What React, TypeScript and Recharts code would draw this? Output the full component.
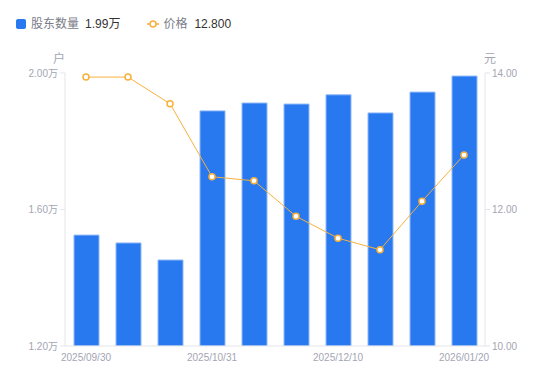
import { Bar, ComposedChart, Line, XAxis, YAxis } from "recharts"

const dates = [
  "2025/09/30",
  "2025/10/10",
  "2025/10/20",
  "2025/10/31",
  "2025/11/10",
  "2025/11/20",
  "2025/12/10",
  "2025/12/20",
  "2025/12/31",
  "2026/01/20",
]
const holders = [15250, 15020, 14520, 18890, 19120, 19090, 19360, 18830, 19440, 19910]
const prices = [13.94, 13.94, 13.55, 12.48, 12.42, 11.9, 11.58, 11.41, 12.12, 12.8]
const holderTicks = [12000, 16000, 20000]
const priceTicks = [10, 12, 14]

const BLUE = "#2878f0"
const ORANGE = "#f8b03c"
const AXIS = "#e4e5ea"
const TICK = "#a3a5b3"
const FONT = "'Liberation Sans', Arial, 'Noto Sans CJK SC', sans-serif"

const data = dates.map((date, i) => ({ date, holders: holders[i], price: prices[i] }))

export default function App() {
  const last = data.length - 1
  return (
    <div style={{ position: "fixed", left: 0, top: 0, width: 550, height: 381, background: "#fff", fontFamily: FONT }}>
      {/* legend */}
      <div style={{ position: "absolute", left: 16, top: 16, display: "flex", alignItems: "center", fontSize: 12, lineHeight: "16px" }}>
        <span style={{ width: 10, height: 10, background: BLUE, borderRadius: 2, display: "inline-block" }} />
        <span style={{ color: "#7a7c88", marginLeft: 5 }}>股东数量</span>
        <span style={{ color: "#333", marginLeft: 6 }}>{(holders[last] / 10000).toFixed(2)}万</span>
        <svg width={12} height={10} style={{ marginLeft: 27 }}>
          <line x1={0} y1={5} x2={12} y2={5} stroke={ORANGE} strokeWidth={1.5} />
          <circle cx={6} cy={5} r={3} fill="#fff" stroke={ORANGE} strokeWidth={1.5} />
        </svg>
        <span style={{ color: "#7a7c88", marginLeft: 4 }}>价格</span>
        <span style={{ color: "#333", marginLeft: 7 }}>{prices[last].toFixed(3)}</span>
      </div>
      <div style={{ position: "absolute", left: 53, top: 49, fontSize: 12, color: TICK }}>户</div>
      <div style={{ position: "absolute", left: 484, top: 49, fontSize: 12, color: TICK }}>元</div>
      <ComposedChart
        width={550}
        height={381}
        data={data}
        margin={{ top: 73, right: 0, bottom: 0, left: 0 }}
        barSize={25}
      >
        <XAxis
          dataKey="date"
          interval={2}
          tickLine={false}
          axisLine={{ stroke: AXIS }}
          tick={{ fill: TICK, fontSize: 10, fontFamily: FONT }}
          height={35}
        />
        <YAxis
          yAxisId="left"
          domain={[12000, 20000]}
          ticks={holderTicks}
          width={65}
          tickSize={5}
          tickLine={{ stroke: AXIS }}
          axisLine={{ stroke: AXIS }}
          tick={{ fill: TICK, fontSize: 10, fontFamily: FONT }}
          tickFormatter={(v: number) => (v / 10000).toFixed(2) + "万"}
          allowDataOverflow
        />
        <YAxis
          yAxisId="right"
          orientation="right"
          domain={[10, 14]}
          ticks={priceTicks}
          width={65}
          tickSize={5}
          tickLine={{ stroke: AXIS }}
          axisLine={{ stroke: AXIS }}
          tick={{ fill: TICK, fontSize: 10, fontFamily: FONT }}
          tickFormatter={(v: number) => v.toFixed(2)}
        />
        <Bar yAxisId="left" dataKey="holders" fill={BLUE} stroke="#8fb8f7" strokeWidth={1} isAnimationActive={false} />
        <Line
          yAxisId="right"
          dataKey="price"
          type="linear"
          stroke={ORANGE}
          strokeWidth={1}
          dot={{ r: 3, fill: "#fff", stroke: ORANGE, strokeWidth: 1.5 }}
          activeDot={false}
          isAnimationActive={false}
        />
      </ComposedChart>
    </div>
  )
}
